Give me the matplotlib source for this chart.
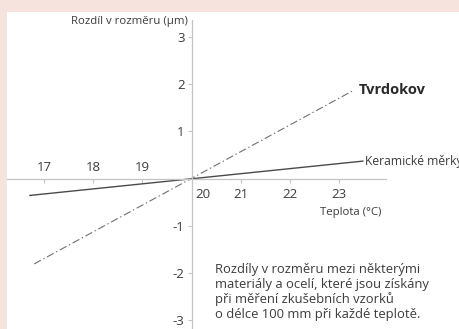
import matplotlib
matplotlib.use("Agg")
import matplotlib.pyplot as plt

plt.rcParams['font.family'] = ['Open Sans', 'DejaVu Sans']
plt.rcParams['lines.scale_dashes'] = False

# Data: dimensional difference (µm) vs temperature (°C), 100 mm specimen
ceramic_temp = [16.7, 23.5]
ceramic_diff = [-0.36, 0.37]
carbide_temp = [16.8, 23.3]
carbide_diff = [-1.81, 1.87]

x_ticks_left = [17, 18, 19]
x_ticks_right = [20, 21, 22, 23]
y_ticks = [-3, -2, -1, 1, 2, 3]

ceramic_label = "Keramické měrky"
carbide_label = "Tvrdokov"
x_label = "Teplota (°C)"
y_label = "Rozdíl v rozměru (µm)"
note_lines = ["Rozdíly v rozměru mezi některými",
              "materiály a ocelí, které jsou získány",
              "při měření zkušebních vzorků",
              "o délce 100 mm při každé teplotě."]

W, H = 460, 329
fig = plt.figure(figsize=(W / 100, H / 100), dpi=100)
fig.patch.set_facecolor('#f7e3dd')

rect = [7 / W, 0, (W - 7) / W, (H - 12) / H]
bg = fig.add_axes(rect, zorder=0)
bg.set_axis_off()
bg.add_patch(plt.Rectangle((0, 0), 1, 1, transform=bg.transAxes,
                           facecolor='white', edgecolor='none'))

ax = fig.add_axes(rect, zorder=1)
ax.set_facecolor('none')
xpx = 49.17
ypx = 47.2
x0px, y0px = 191.5, 178.5
ax.set_xlim(20 + (7 - x0px) / xpx, 20 + (W - x0px) / xpx)
ax.set_ylim((y0px - H) / ypx, (y0px - 12) / ypx)

axis_col = '#c4c4c4'
text_col = '#3c3c3c'
for s in ['top', 'right']:
    ax.spines[s].set_visible(False)
ax.spines['bottom'].set_position(('data', 0))
ax.spines['left'].set_position(('data', 20))
ax.spines['bottom'].set_bounds(ax.get_xlim()[0], 20 + (386 - x0px) / xpx)
ax.spines['left'].set_bounds(ax.get_ylim()[0], (y0px - 20) / ypx)
for s in ['bottom', 'left']:
    ax.spines[s].set_color(axis_col)
    ax.spines[s].set_linewidth(0.9)

ax.set_xticks(x_ticks_left + x_ticks_right[1:])
ax.set_xticklabels([])
ax.set_yticks(y_ticks)
ax.tick_params(axis='both', direction='out', length=3, width=0.8, color=axis_col)
ax.tick_params(axis='y', labelsize=9.5, labelcolor=text_col, pad=2)
ax.set_yticklabels([str(v) for v in y_ticks])

fs = 9.5
for t in x_ticks_left:
    ax.annotate(str(t), (t, 0), xytext=(0, 8), textcoords='offset points',
                ha='center', va='center', fontsize=fs, color=text_col)
for t in x_ticks_right:
    dx = 8.5 if t == 20 else 0
    ax.annotate(str(t), (t, 0), xytext=(dx, -11.5), textcoords='offset points',
                ha='center', va='center', fontsize=fs, color=text_col)

ax.plot(ceramic_temp, ceramic_diff, color='#4a4a4a', lw=1.0, solid_capstyle='butt')
ax.plot(carbide_temp, carbide_diff, color='#707070', lw=0.8,
        linestyle=(0, (5.5, 2.0, 1.0, 2.0)))

ax.annotate(carbide_label, (carbide_temp[1], carbide_diff[1]), xytext=(3.5, 0),
            textcoords='offset points', ha='left', va='center',
            fontsize=10.5, fontweight='bold', color='#2a2a2a')
ax.annotate(ceramic_label, (ceramic_temp[1], ceramic_diff[1]), xytext=(1, 0),
            textcoords='offset points', ha='left', va='center',
            fontsize=8.7, color=text_col)

fig.text(188 / W, 1 - 21.5 / H, y_label, ha='right', va='center', fontsize=8.2, color=text_col)
fig.text(381 / W, 1 - 213 / H, x_label, ha='right', va='center', fontsize=8.2, color=text_col)
for i, line in enumerate(note_lines):
    fig.text(215 / W, 1 - (272.5 + 15.3 * i) / H, line, ha='left', va='baseline',
             fontsize=9.4, color=text_col)

fig.savefig('out.png', dpi=100, facecolor=fig.get_facecolor())
